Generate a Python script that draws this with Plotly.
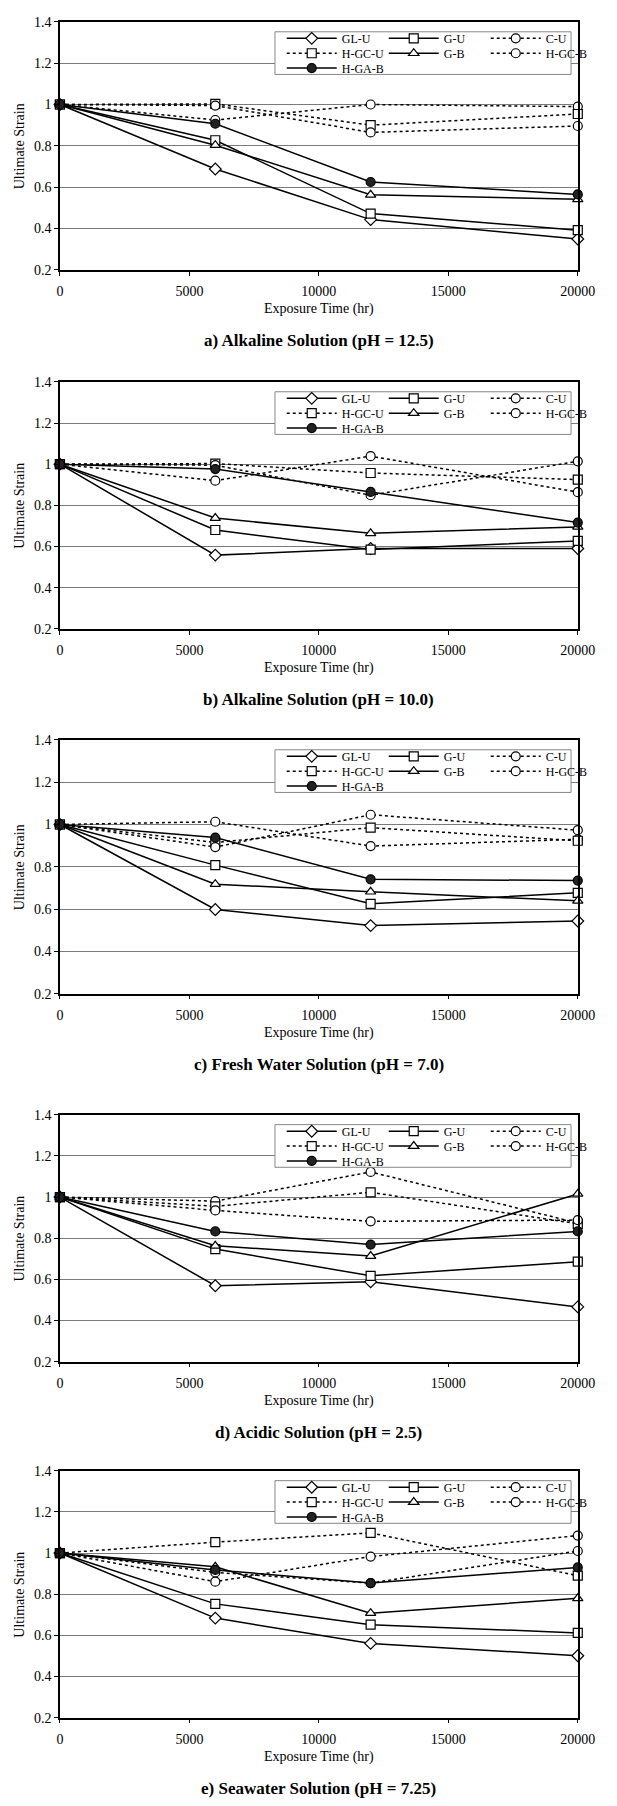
import plotly.graph_objects as go

W, H = 617, 1806

hours = [0, 6000, 12000, 20000]
series = ["GL-U", "G-U", "C-U", "H-GC-U", "G-B", "H-GC-B", "H-GA-B"]
panel_titles = [
    "a) Alkaline Solution (pH = 12.5)",
    "b) Alkaline Solution (pH = 10.0)",
    "c) Fresh Water Solution (pH = 7.0)",
    "d) Acidic Solution (pH = 2.5)",
    "e) Seawater Solution (pH = 7.25)",
]
x_ticks = [0, 5000, 10000, 15000, 20000]

# Ultimate strain (normalised), series order as in `series`
strain_a = [
    [1, 0.688, 0.443, 0.349],   # GL-U
    [1, 0.827, 0.472, 0.392],   # G-U
    [1, 0.925, 1.000, 0.990],   # C-U
    [1, 1.003, 0.900, 0.954],   # H-GC-U
    [1, 0.803, 0.563, 0.541],   # G-B
    [1, 0.995, 0.865, 0.896],   # H-GC-B
    [1, 0.907, 0.625, 0.565],   # H-GA-B
]
strain_b = [
    [1, 0.558, 0.590, 0.590],
    [1, 0.680, 0.585, 0.627],
    [1, 0.920, 1.039, 0.864],
    [1, 1.003, 0.957, 0.925],
    [1, 0.738, 0.664, 0.695],
    [1, 0.995, 0.849, 1.014],
    [1, 0.976, 0.865, 0.716],
]
strain_c = [
    [1, 0.598, 0.522, 0.544],
    [1, 0.808, 0.625, 0.677],
    [1, 1.013, 0.898, 0.930],
    [1, 0.915, 0.985, 0.923],
    [1, 0.718, 0.682, 0.639],
    [1, 0.893, 1.046, 0.973],
    [1, 0.938, 0.741, 0.735],
]
strain_d = [
    [1, 0.569, 0.588, 0.466],
    [1, 0.747, 0.617, 0.686],
    [1, 0.980, 1.122, 0.874],
    [1, 0.955, 1.023, 0.870],
    [1, 0.763, 0.713, 1.015],
    [1, 0.935, 0.882, 0.888],
    [1, 0.833, 0.769, 0.833],
]
strain_e = [
    [1, 0.684, 0.561, 0.501],
    [1, 0.753, 0.652, 0.612],
    [1, 0.861, 0.983, 1.085],
    [1, 1.053, 1.098, 0.890],
    [1, 0.933, 0.708, 0.780],
    [1, 0.906, 0.854, 1.010],
    [1, 0.918, 0.854, 0.930],
]
panels_data = [strain_a, strain_b, strain_c, strain_d, strain_e]

# styles
symbols = {"GL-U": "diamond", "G-U": "square", "C-U": "circle", "H-GC-U": "square",
           "G-B": "triangle-up", "H-GC-B": "circle", "H-GA-B": "circle"}
dashes = {"GL-U": "solid", "G-U": "solid", "C-U": "3px,3px", "H-GC-U": "3px,3px",
          "G-B": "solid", "H-GC-B": "3px,3px", "H-GA-B": "solid"}
fills = {"H-GA-B": "#222222"}
legend_row = {"GL-U": 0, "G-U": 0, "C-U": 0,
              "H-GC-U": 1, "G-B": 1, "H-GC-B": 1, "H-GA-B": 2}
last_col = {"C-U", "H-GC-B"}

# panel plot-area pixel extents (top, bottom)
panel_px = [(15, 265), (378, 627), (739, 995), (1117, 1366), (1476, 1725)]
x_left, x_right = 58, 595
leg_left, leg_right = 281, 588

FONT = "Liberation Serif, Times New Roman, serif"

fig = go.Figure()
layout = dict(
    width=W, height=H,
    margin=dict(l=0, r=0, t=0, b=0),
    paper_bgcolor="white", plot_bgcolor="white",
    font=dict(family=FONT, color="black", size=14),
    annotations=[], shapes=[],
)


def py(v):
    return 1 - v / H


def legend_key(n):
    return "legend" if n == 1 else f"legend{n}"


for i, (data, title) in enumerate(zip(panels_data, panel_titles)):
    sfx = "" if i == 0 else str(i + 1)
    xa, ya = "x" + sfx, "y" + sfx
    top, bot = panel_px[i]
    for name, vals in zip(series, data):
        lg = legend_key(i * 3 + legend_row[name] + 1)
        fig.add_trace(go.Scatter(
            x=hours, y=vals, name=name, mode="lines+markers",
            xaxis=xa, yaxis=ya, legend=lg,
            legendwidth=50 if name in last_col else None,
            line=dict(color="black", width=1.5, dash=dashes[name]),
            marker=dict(symbol=symbols[name], size=9,
                        color=fills.get(name, "white"),
                        line=dict(color="black", width=1.2)),
            cliponaxis=False,
        ))
    layout["xaxis" + sfx] = dict(
        domain=[x_left / W, x_right / W], anchor=ya, range=[0, 20000],
        tickvals=x_ticks, tickformat="d", ticks="outside", ticklen=4,
        tickcolor="black", showline=True, linecolor="black", linewidth=1.5,
        mirror=True, showgrid=False, zeroline=False,
        tickfont=dict(size=14, family=FONT), ticklabelstandoff=4,
    )
    layout["yaxis" + sfx] = dict(
        domain=[py(bot), py(top)], anchor=xa, range=[0.2, 1.4],
        tick0=0.2, dtick=0.2, ticks="outside", ticklen=4, tickcolor="black",
        showline=True, linecolor="black", linewidth=1.5, mirror=True,
        showgrid=True, gridcolor="#7a7a7a", gridwidth=1, zeroline=False,
        tickfont=dict(size=14, family=FONT),
    )
    # legend frame
    layout["shapes"].append(dict(
        type="rect", xref="paper", yref="paper",
        x0=leg_left / W, x1=leg_right / W, y0=py(top + 53), y1=py(top + 10),
        line=dict(color="#888888", width=1), fillcolor="white", layer="above",
    ))
    for r in range(3):
        layout[legend_key(i * 3 + r + 1)] = dict(
            x=(leg_left + 7) / W, y=py(top + 2 + 15 * r),
            xanchor="left", yanchor="top",
            orientation="h", entrywidth=37, entrywidthmode="pixels",
            itemwidth=50, font=dict(size=12, family=FONT),
            borderwidth=0, bgcolor="rgba(0,0,0,0)",
        )
    layout["annotations"] += [
        dict(text="Ultimate Strain", x=16 / W, y=py((top + bot) / 2),
             xref="paper", yref="paper", textangle=-90, showarrow=False,
             font=dict(size=14, family=FONT), xanchor="center", yanchor="middle"),
        dict(text="Exposure Time (hr)", x=(x_left + x_right) / 2 / W,
             y=py(bot + 40), xref="paper", yref="paper", showarrow=False,
             font=dict(size=14, family=FONT), xanchor="center", yanchor="middle"),
        dict(text="<b>" + title + "</b>", x=(x_left + x_right) / 2 / W,
             y=py(bot + 71), xref="paper", yref="paper", showarrow=False,
             font=dict(size=17, family=FONT), xanchor="center", yanchor="middle"),
    ]

fig.update_layout(**layout)
fig.write_html("out.html", config={"displayModeBar": False},
               post_script="document.body.style.margin='0px';")
